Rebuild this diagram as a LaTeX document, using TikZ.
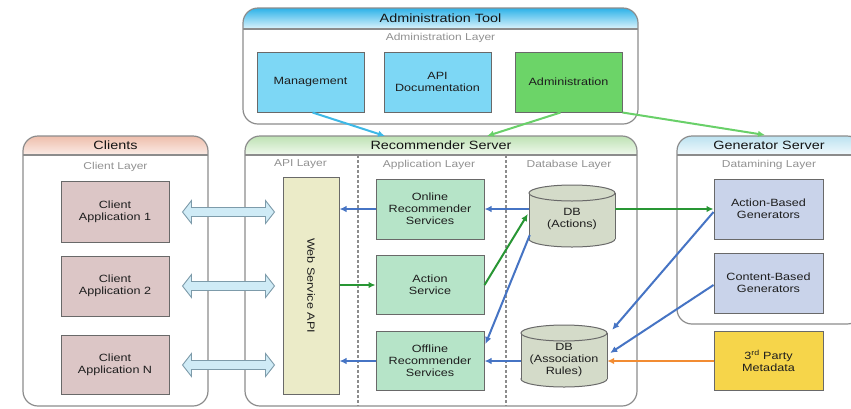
\documentclass[tikz,border=0pt]{standalone}
\usepackage{fontspec}
\setmainfont[FakeStretch=1.2]{Liberation Sans}
\usetikzlibrary{arrows.meta,calc}

\definecolor{framecol}{RGB}{140,140,140}
\definecolor{boxline}{RGB}{105,105,105}
\definecolor{txtdark}{RGB}{20,20,20}
\definecolor{txtbox}{RGB}{30,30,30}
\definecolor{layertxt}{RGB}{145,145,145}
\definecolor{cyanbox}{RGB}{125,215,245}
\definecolor{greenbox}{RGB}{108,212,104}
\definecolor{clientbox}{RGB}{220,198,198}
\definecolor{wsbox}{RGB}{235,235,200}
\definecolor{mintbox}{RGB}{182,228,200}
\definecolor{dbfill}{RGB}{212,219,201}
\definecolor{genbox}{RGB}{201,211,234}
\definecolor{partybox}{RGB}{246,213,74}
\definecolor{admtop}{RGB}{45,178,232}
\definecolor{admbot}{RGB}{222,244,252}
\definecolor{clitop}{RGB}{238,190,172}
\definecolor{clibot}{RGB}{251,236,230}
\definecolor{rectop}{RGB}{190,226,180}
\definecolor{recbot}{RGB}{240,249,237}
\definecolor{gentop}{RGB}{188,226,240}
\definecolor{genbot}{RGB}{242,250,253}
\definecolor{fatfill}{RGB}{207,235,246}
\definecolor{fatline}{RGB}{125,155,170}
\definecolor{blueconn}{RGB}{70,116,196}
\definecolor{greenconn}{RGB}{40,150,52}
\definecolor{cyanconn}{RGB}{61,184,230}
\definecolor{ltgreenconn}{RGB}{105,208,105}
\definecolor{orangeconn}{RGB}{242,140,50}

% container with shaded title band
\newcommand{\container}[7]{%
  \begin{scope}
    \clip[rounded corners=15pt] (#1,#2) rectangle (#3,#4);
    \fill[white] (#1,#2) rectangle (#3,#4);
    \shade[top color=#6, bottom color=#7] (#1,#2) rectangle (#3,#5);
  \end{scope}
  \draw[frame] (#1,#5) -- (#3,#5);
  \draw[frame, rounded corners=15pt] (#1,#2) rectangle (#3,#4);
}

% database cylinder: left, top, right, bottom
\newcommand{\dbshape}[4]{%
  \draw[dbline, fill=dbfill] ({(#1+#3)/2},{#4-8}) ellipse [x radius={(#3-#1)/2}, y radius=8];
  \fill[dbfill] (#1,{#2+8}) rectangle (#3,{#4-8});
  \draw[dbline] (#1,{#2+8}) -- (#1,{#4-8}) (#3,{#2+8}) -- (#3,{#4-8});
  \draw[dbline, fill=dbfill] ({(#1+#3)/2},{#2+8}) ellipse [x radius={(#3-#1)/2}, y radius=8];
}

% wide two-headed arrow between a client and the API
\newcommand{\fatlink}[2]{%
  \draw[fatarrow] let \p1=(#1), \p2=(#2) in
    (\x1+13pt,\y1) -- (\x1+22pt,\y1+11.5pt) -- (\x1+22pt,\y1+4.5pt)
    -- (\x2-17pt,\y1+4.5pt) -- (\x2-17pt,\y1+11.5pt) -- (\x2-8pt,\y1)
    -- (\x2-17pt,\y1-11.5pt) -- (\x2-17pt,\y1-4.5pt) -- (\x1+22pt,\y1-4.5pt)
    -- (\x1+22pt,\y1-11.5pt) -- cycle;
}

\begin{document}
\begin{tikzpicture}[x=1pt,y=-1pt,
  frame/.style={draw=framecol, line width=1.2pt},
  dbline/.style={draw=boxline, line width=1pt},
  box/.style={draw=boxline, line width=1pt, align=center, text=txtbox,
    font=\fontsize{10.5}{12}\selectfont, inner sep=2pt},
  boxtext/.style={align=center, text=txtbox, font=\fontsize{10.5}{12}\selectfont},
  title/.style={text=txtdark, font=\fontsize{12}{14}\selectfont},
  layer/.style={text=layertxt, font=\fontsize{10}{12}\selectfont},
  divider/.style={draw=framecol, line width=1.2pt, dash pattern=on 3pt off 2pt},
  fatarrow/.style={draw=fatline, fill=fatfill, line width=0.9pt, line join=miter},
  conn/.style={line width=2pt, -{Latex[length=7pt,width=6.5pt]}},
]
\useasboundingbox (0,0) rectangle (851,408);

% containers
\container{243}{8}{638}{124}{29}{admtop}{admbot}
\container{23}{136}{208}{406}{155}{clitop}{clibot}
\container{245}{136}{637}{406}{155}{rectop}{recbot}
\container{677}{136}{862}{324}{155}{gentop}{genbot}

\node[title] (ttadm) at (440.5,18.5) {Administration Tool};
\node[layer] (lyadm) at (440.5,37.5) {Administration Layer};
\node[title] (ttcli) at (115.5,145.5) {Clients};
\node[layer] (lycli) at (115.5,166.5) {Client Layer};
\node[title] (ttrec) at (441,145.5) {Recommender Server};
\node[layer] (lyapi) at (300.5,164.5) {API Layer};
\node[layer] (lyapp) at (429,164.5) {Application Layer};
\node[layer] (lydb) at (569,164.5) {Database Layer};
\node[title] (ttgen) at (769,145.5) {Generator Server};
\node[layer] (lygen) at (769,164.5) {Datamining Layer};

\draw[divider] (358,155) -- (358,406);
\draw[divider] (506,155) -- (506,406);

% administration layer
\node[box, fill=cyanbox, minimum width=107pt, minimum height=60pt] (mgmt) at (310.5,82) {Management};
\node[box, fill=cyanbox, minimum width=107pt, minimum height=60pt] (apidoc) at (437.5,82) {API\\Documentation};
\node[box, fill=greenbox, minimum width=107pt, minimum height=60pt] (admin) at (568.5,82) {Administration};

% client layer
\node[box, fill=clientbox, minimum width=108pt, minimum height=61pt] (ca1) at (115,212) {Client\\Application 1};
\node[box, fill=clientbox, minimum width=108pt, minimum height=60pt] (ca2) at (115,286) {Client\\Application 2};
\node[box, fill=clientbox, minimum width=108pt, minimum height=59pt] (caN) at (115,365) {Client\\Application N};

% API and application layers
\node[box, fill=wsbox, minimum width=56pt, minimum height=217pt] (ws) at (311,285.5) {};
\node[boxtext, rotate=-90] (wslabel) at (ws.center) {Web Service API};
\node[box, fill=mintbox, minimum width=108pt, minimum height=60pt] (online) at (430,209) {Online\\Recommender\\Services};
\node[box, fill=mintbox, minimum width=108pt, minimum height=59pt] (action) at (430,285) {Action\\Service};
\node[box, fill=mintbox, minimum width=108pt, minimum height=59pt] (offline) at (430,361) {Offline\\Recommender\\Services};

% database layer
\dbshape{529}{185}{615}{247}
\node[minimum width=86pt, minimum height=62pt, inner sep=0pt] (dba) at (572,216) {};
\node[boxtext] (dbatext) at (572,219) {DB\\(Actions)};
\dbshape{521}{325}{607}{387}
\node[minimum width=86pt, minimum height=62pt, inner sep=0pt] (dbr) at (564,356) {};
\node[boxtext] (dbrtext) at (564,360) {DB\\(Association\\Rules)};

% datamining layer
\node[box, fill=genbox, minimum width=109pt, minimum height=60pt] (abg) at (768.5,209) {Action-Based\\Generators};
\node[box, fill=genbox, minimum width=109pt, minimum height=60pt] (cbg) at (768.5,283) {Content-Based\\Generators};
\node[box, fill=partybox, minimum width=109pt, minimum height=59pt] (party) at (768.5,361) {3\textsuperscript{rd} Party\\Metadata};

% entry points on the server title bands
\coordinate (rsin1) at (385,136);
\coordinate (rsin2) at (487,136);
\coordinate (gsin) at (765,135);

% client traffic
\fatlink{ca1.east}{ws.west}
\fatlink{ca2.east}{ws.west}
\fatlink{caN.east}{ws.west}

% administration links
\draw[conn, cyanconn] ($(mgmt.south)+(2,0)$) -- (rsin1);
\draw[conn, ltgreenconn] ($(admin.south)+(-8,0)$) -- (rsin2);
\draw[conn, ltgreenconn] (admin.south east) -- (gsin);

% recommender server flows
\draw[conn, blueconn] (dba.west |- online.east) -- (online.east);
\draw[conn, blueconn] (online.west) -- (online.west -| ws.east);
\draw[conn, greenconn] (ws.east |- action.west) -- (action.west);
\draw[conn, greenconn] (action.east) -- ($(dba.west)+(-1,-2)$);
\draw[conn, blueconn] ($(dba.west)+(1,19)$) -- ($(offline.north east)+(1,13)$);
\draw[conn, blueconn] (dbr.west |- offline.east) -- (offline.east);
\draw[conn, blueconn] (offline.west) -- (offline.west -| ws.east);

% generator server flows
\draw[conn, greenconn] (dba.east |- abg.west) -- (abg.west);
\draw[conn, blueconn] ($(abg.west)+(0,3)$) -- ($(dbr.north east)+(5,5)$);
\draw[conn, blueconn] ($(cbg.west)+(0,2)$) -- ($(dbr.east)+(3,-3)$);
\draw[conn, orangeconn] (party.west) -- (dbr.east |- party.west);
\end{tikzpicture}
\end{document}
